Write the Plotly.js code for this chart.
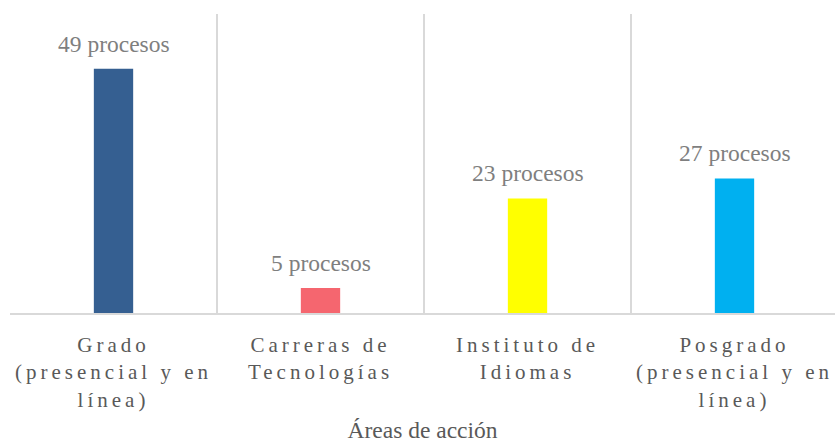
<!DOCTYPE html>
<html>
<head>
<meta charset="utf-8">
<script src="https://cdn.plot.ly/plotly-3.0.1.min.js"></script>
<style>
  html, body { margin: 0; padding: 0; background: #fff; font-family: 'Liberation Serif', serif; }
  #chart { width: 835px; height: 443px; }
  .xtick text { letter-spacing: 4px; }
</style>
</head>
<body>
<div id="chart"></div>
<script>
const categories = [
  "Grado<br>(presencial y en<br>línea)",
  "Carreras de<br>Tecnologías",
  "Instituto de<br>Idiomas",
  "Posgrado<br>(presencial y en<br>línea)"
];
const values = [49, 5, 23, 27];
const labels = ["49 procesos", "5 procesos", "23 procesos", "27 procesos"];
const barColors = ["#355F91", "#F5666F", "#FFFF00", "#00B0F0"];
const axisTitle = "Áreas de acción";
const SERIF = "Liberation Serif";

function draw() {
  const trace = {
    type: "bar",
    x: categories,
    y: values,
    width: 0.19,
    marker: { color: barColors },
    hoverinfo: "skip"
  };

  const annotations = categories.map((c, i) => ({
    x: c, y: values[i], xref: "x", yref: "y",
    text: labels[i], showarrow: false,
    yanchor: "bottom", yshift: 10,
    font: { family: SERIF, size: 23.5, color: "#7F7F7F" }
  }));

  const layout = {
    width: 835, height: 443,
    margin: { l: 10, r: 0, t: 14, b: 130 },
    paper_bgcolor: "#fff", plot_bgcolor: "#fff",
    showlegend: false,
    font: { family: SERIF },
    xaxis: {
      type: "category",
      range: [-0.5, 3.4855],
      tickson: "boundaries",
      showgrid: true, gridcolor: "#D9D9D9", gridwidth: 1.5,
      showline: true, linecolor: "#D9D9D9", linewidth: 1.5,
      ticks: "", ticklen: 0,
      ticklabelstandoff: 12,
      tickfont: { family: SERIF, size: 21, color: "#595959" },
      title: { text: axisTitle, font: { family: SERIF, size: 23.5, color: "#595959" }, standoff: 13 },
      fixedrange: true
    },
    yaxis: {
      range: [0, 60],
      showgrid: false, zeroline: false,
      showticklabels: false, ticks: "",
      showline: false,
      fixedrange: true
    },
    annotations: annotations
  };

  Plotly.newPlot("chart", [trace], layout, { displayModeBar: false });
}

if (document.fonts && document.fonts.load) {
  document.fonts.load('22px "Liberation Serif"').then(draw, draw);
} else {
  draw();
}
</script>
</body>
</html>
